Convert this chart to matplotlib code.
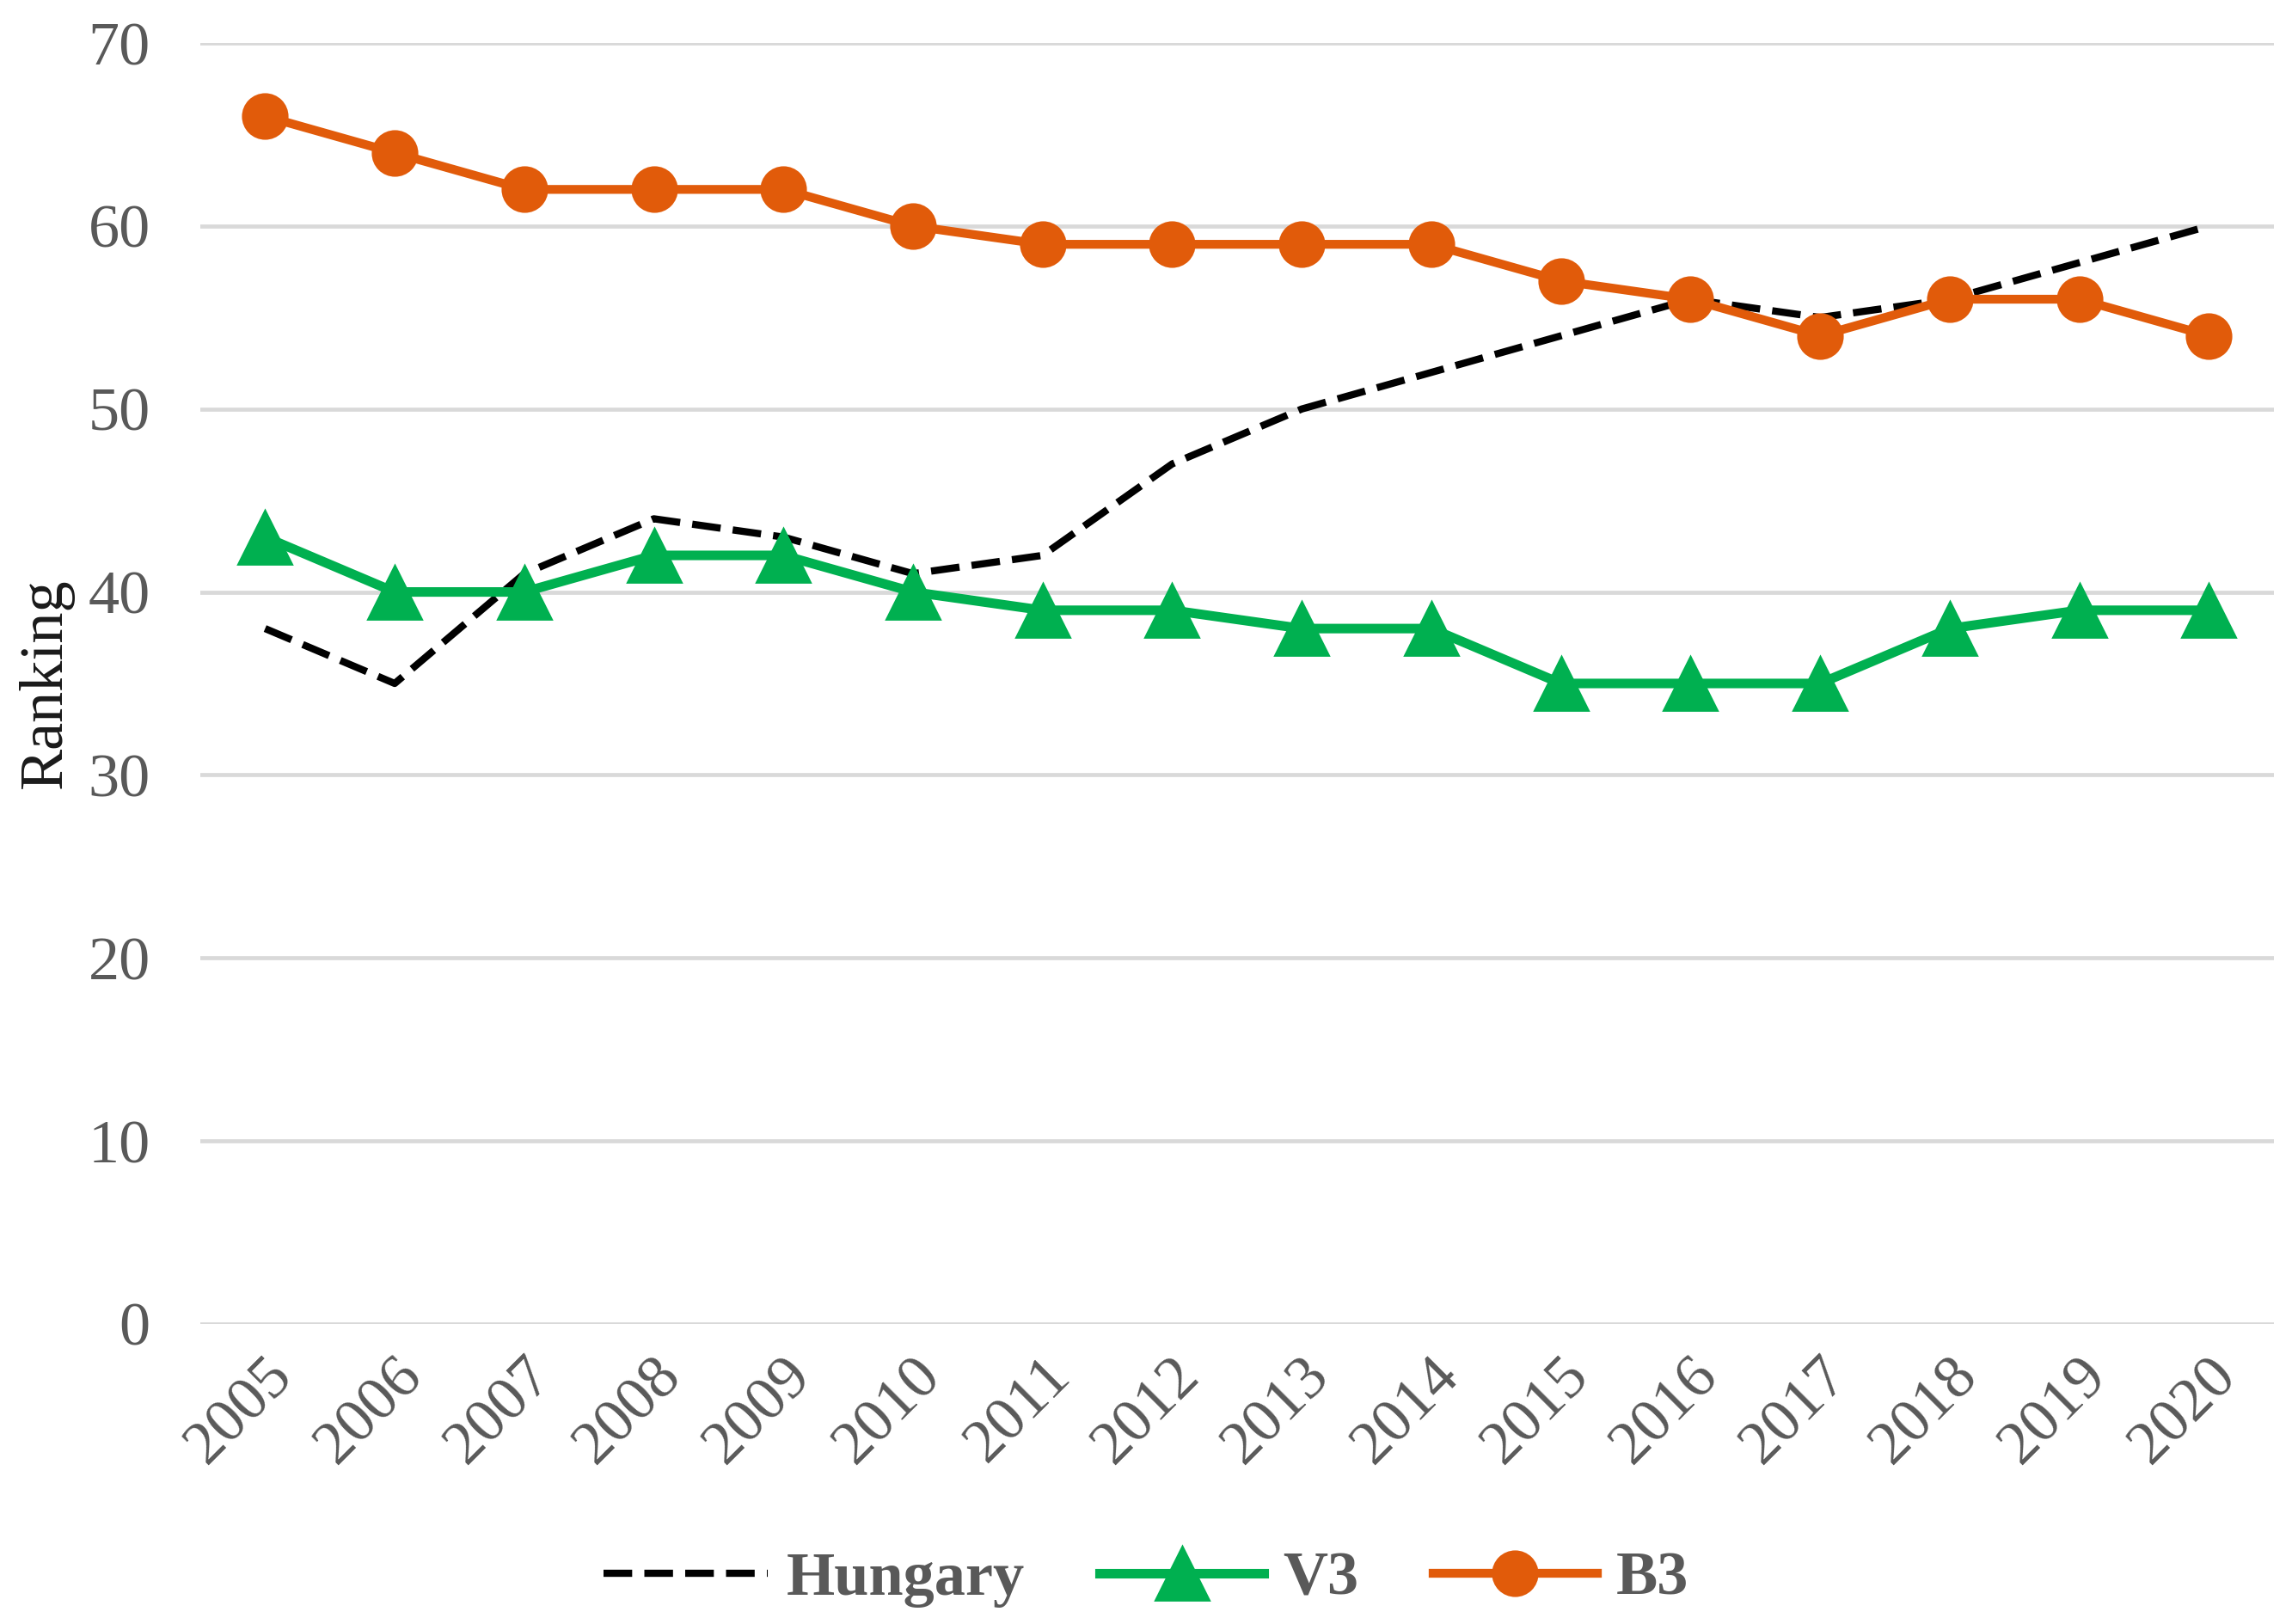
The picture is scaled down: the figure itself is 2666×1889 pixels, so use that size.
import matplotlib
matplotlib.use('Agg')
from matplotlib import pyplot as plt
from matplotlib import transforms


years = ['2005', '2006', '2007', '2008', '2009', '2010', '2011', '2012',
         '2013', '2014', '2015', '2016', '2017', '2018', '2019', '2020']
hungary = [38, 35, 41, 44, 43, 41, 42, 47, 50, 52, 54, 56, 55, 56, 58, 60]
v3 = [43, 40, 40, 42, 42, 40, 39, 39, 38, 38, 35, 35, 35, 38, 39, 39]
b3 = [66, 64, 62, 62, 62, 60, 59, 59, 59, 59, 57, 56, 54, 56, 56, 54]
y_ticks = [0, 10, 20, 30, 40, 50, 60, 70]

gray = '#595959'
green = '#00B050'
orange = '#E15B0A'


def main():
    plt.rcParams['font.family'] = ['Liberation Serif', 'DejaVu Serif']

    fig = plt.figure(figsize=(13.33, 9.445), dpi=200)
    ax = fig.add_axes([0.0874, 0.1848, 0.9046, 0.7887])

    x = list(range(len(years)))
    ax.plot(x, hungary, color='black', linewidth=3, dashes=(4, 1.7),
            label='Hungary', zorder=3)
    ax.plot(x, v3, color=green, linewidth=4, marker='^', markersize=22,
            label='V3', zorder=4)
    ax.plot(x, b3, color=orange, linewidth=3.7, marker='o', markersize=18.5,
            label='B3', zorder=5)

    ax.set_xlim(-0.5, len(years) - 0.5)
    ax.set_ylim(0, 70)
    ax.set_yticks(y_ticks)
    ax.set_xticks(x)
    ax.set_xticklabels(years)
    ax.grid(axis='y', color='#D9D9D9', linewidth=1.7, zorder=0)
    ax.set_axisbelow(True)

    for side in ['top', 'right', 'left', 'bottom']:
        ax.spines[side].set_visible(False)

    ax.tick_params(axis='y', length=0, pad=21, labelsize=26, labelcolor=gray)
    ax.tick_params(axis='x', length=0, pad=18, labelsize=26, labelcolor=gray)

    shift = transforms.ScaledTranslation(8 / 72, 0, fig.dpi_scale_trans)
    for lbl in ax.get_xticklabels():
        lbl.set_rotation(45)
        lbl.set_rotation_mode('anchor')
        lbl.set_ha('right')
        lbl.set_va('center')
        lbl.set_transform(lbl.get_transform() + shift)

    ax.set_ylabel('Ranking', fontsize=26, color='#1a1a1a')
    ax.yaxis.set_label_coords(-0.061, 0.5)

    leg = fig.legend(loc='center', bbox_to_anchor=(0.5, 0.0275), ncol=3,
                     frameon=False, handlelength=2.65, handletextpad=0.3,
                     columnspacing=1.2, prop={'size': 26, 'weight': 'bold'})
    for text in leg.get_texts():
        text.set_color(gray)

    plt.savefig('out.png', dpi=200)
    plt.close()


if __name__ == '__main__':
    main()
